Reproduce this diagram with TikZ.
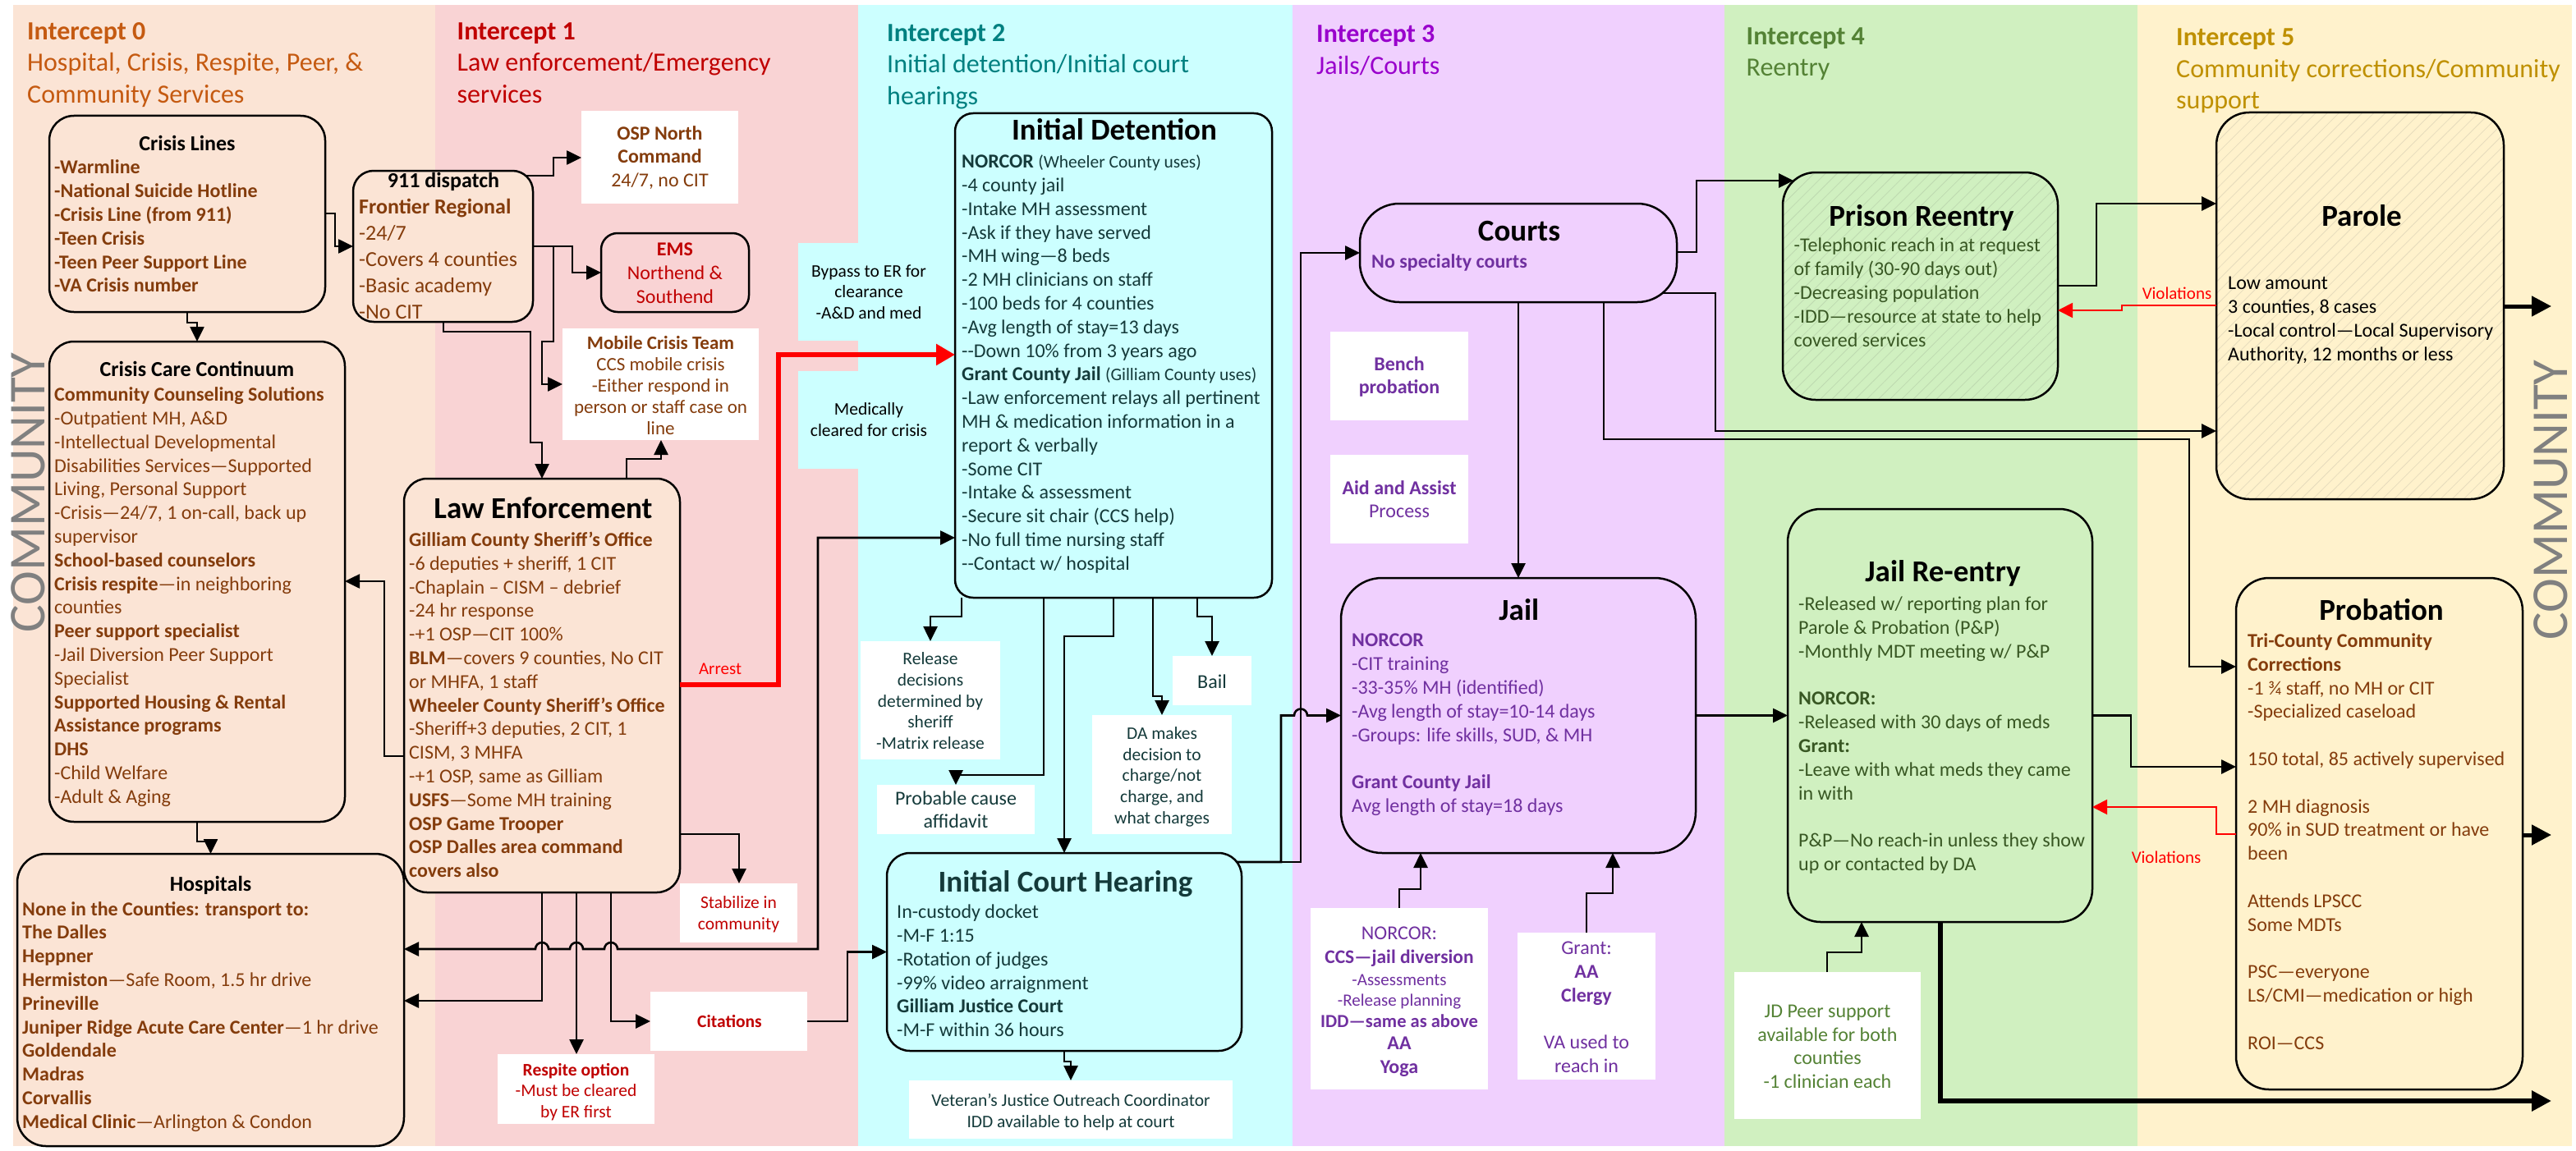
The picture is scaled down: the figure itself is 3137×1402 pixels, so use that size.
\documentclass[tikz,border=0pt]{standalone}
\usepackage{fontspec}
\setmainfont{Carlito}
\usetikzlibrary{arrows.meta,calc,patterns.meta}
\definecolor{pA}{RGB}{251,228,213}
\definecolor{pB}{RGB}{249,211,212}
\definecolor{pC}{RGB}{204,255,255}
\definecolor{pD}{RGB}{240,208,254}
\definecolor{pE}{RGB}{208,240,192}
\definecolor{pF}{RGB}{255,242,204}
\definecolor{tA}{RGB}{197,90,17}
\definecolor{tB}{RGB}{192,0,0}
\definecolor{tC}{RGB}{0,128,128}
\definecolor{tD}{RGB}{153,0,204}
\definecolor{tE}{RGB}{84,130,53}
\definecolor{tF}{RGB}{191,144,0}
\definecolor{brn}{RGB}{132,60,12}
\definecolor{dteal}{RGB}{20,58,58}
\definecolor{purp}{RGB}{112,48,160}
\definecolor{dgrn}{RGB}{56,87,35}
\definecolor{vred}{RGB}{255,0,0}
\definecolor{hatchE}{RGB}{190,217,176}
\definecolor{hatchF}{RGB}{230,219,188}
\definecolor{cgray}{RGB}{128,128,128}
\newcommand{\fzBody}{\fontsize{24}{28.8}\selectfont}
\newcommand{\fzMid}{\fontsize{26}{32}\selectfont}
\newcommand{\fzBig}{\fontsize{37}{44}\selectfont\bfseries}
\newcommand{\fzSm}{\fontsize{21.5}{25.7}\selectfont}
\newcommand{\fzHead}{\fontsize{32}{38.4}\selectfont}
\newcommand{\fzMob}{\fontsize{23}{26}\selectfont}
\newcommand{\fzTwo}{\fontsize{24}{28}\selectfont}
\newcommand{\fzPar}{\fontsize{21.5}{28.8}\selectfont}
\tikzset{
  rbox/.style={draw=black, line width=2.5pt, inner sep=0pt, outer sep=0pt},
  wbox/.style={fill=white, inner sep=0pt, outer sep=0pt},
  cbox/.style={fill=pC, inner sep=0pt, outer sep=0pt},
  body/.style={inner sep=0pt, anchor=north west, align=left, font=\fzBody},
  ctr/.style={inner sep=0pt, anchor=center, align=center},
  lbl/.style={inner sep=0pt, anchor=base},
  conn/.style={draw=black, line width=2.6pt, -{Triangle[length=18pt,width=17pt]}},
  bconn/.style={draw=black, line width=2.6pt, {Triangle[length=18pt,width=17pt]}-{Triangle[length=18pt,width=17pt]}},
  tconn/.style={draw=black, line width=5pt, -{Triangle[length=24pt,width=24pt]}},
  arrestln/.style={draw=red, line width=5.5pt, -{Triangle[length=23pt,width=25pt]}},
  viol/.style={draw=vred, line width=2pt, -{Triangle[length=18pt,width=18pt]}},
  hatchE/.style={preaction={fill=pE}, pattern={Lines[angle=45,distance=10pt,line width=0.8pt]}, pattern color=hatchE},
  hatchF/.style={preaction={fill=pF}, pattern={Lines[angle=45,distance=10pt,line width=0.8pt]}, pattern color=hatchF},
}
\begin{document}
\begin{tikzpicture}[x=1pt,y=-1pt]
\useasboundingbox (0,0) rectangle (3137,1402);
\fill[white] (0,0) rectangle (3137,1402);
% panels
\fill[pA] (16,6) rectangle (530,1396);
\fill[pB] (530,6) rectangle (1045,1396);
\fill[pC] (1045,6) rectangle (1574,1396);
\fill[pD] (1574,6) rectangle (2100,1396);
\fill[pE] (2100,6) rectangle (2603,1396);
\fill[pF] (2603,6) rectangle (3132,1396);
% panel titles
\node[body, font=\fzHead, text=tA] (t0) at (33,21.4) {\strut\textbf{Intercept 0}\\Hospital, Crisis, Respite, Peer, \&\\Community Services\strut};
\node[body, font=\fzHead, text=tB] (t1) at (556.5,21.4) {\strut\textbf{Intercept 1}\\Law enforcement/Emergency\\services\strut};
\node[body, font=\fzHead, text=tC] (t2) at (1080,23.4) {\strut\textbf{Intercept 2}\\Initial detention/Initial court\\hearings\strut};
\node[body, font=\fzHead, text=tD] (t3) at (1603,24.9) {\strut\textbf{Intercept 3}\\Jails/Courts\strut};
\node[body, font=\fzHead, text=tE] (t4) at (2126.5,27.4) {\strut\textbf{Intercept 4}\\Reentry\strut};
\node[body, font=\fzHead, text=tF] (t5) at (2650,28.9) {\strut\textbf{Intercept 5}\\Community corrections/Community\\support\strut};
% COMMUNITY
\node[rotate=90, inner sep=0pt, text=cgray, font=\fontsize{63}{70}\selectfont] (commL) at (34,600) {COMMUNITY};
\node[rotate=90, inner sep=0pt, text=cgray, font=\fontsize{63}{70}\selectfont] (commR) at (3106.5,609) {COMMUNITY};

% ---------- Intercept 0 ----------
\node[rbox, fill=pA, rounded corners=30pt, minimum width=336pt, minimum height=239pt] (crisislines) at (228,260.5) {};
\node[lbl, font=\fzMid\bfseries] (clT) at (228,183.3) {Crisis Lines};
\node[body, text=brn, font=\fzBody\bfseries] (clB) at (66,191.5) {\strut-Warmline\\-National Suicide Hotline\\-Crisis Line (from 911)\\-Teen Crisis\\-Teen Peer Support Line\\-VA Crisis number\strut};

\node[rbox, fill=pA, rounded corners=30pt, minimum width=360pt, minimum height=585pt] (ccc) at (240,708.5) {};
\node[lbl, font=\fzMid\bfseries] (cccT) at (240,458.3) {Crisis Care Continuum};
\node[body, text=brn] (cccB) at (66,468.3) {\strut\textbf{Community Counseling Solutions}\\
-Outpatient MH, A\&D\\
-Intellectual Developmental\\
Disabilities Services—Supported\\
Living, Personal Support\\
-Crisis—24/7, 1 on-call, back up\\
supervisor\\
\textbf{School-based counselors}\\
\textbf{Crisis respite}—in neighboring\\
counties\\
\textbf{Peer support specialist}\\
-Jail Diversion Peer Support\\
Specialist\\
\textbf{Supported Housing \& Rental}\\
\textbf{Assistance programs}\\
\textbf{DHS}\\
-Child Welfare\\
-Adult \& Aging\strut};

\node[rbox, fill=pA, rounded corners=35pt, minimum width=471pt, minimum height=356pt] (hosp) at (256.5,1218) {};
\node[lbl, font=\fzMid\bfseries] (hospT) at (256.5,1085.3) {Hospitals};
\node[body, text=brn] (hospB) at (27,1094.8) {\strut\textbf{None in the Counties: transport to:}\\
\textbf{The Dalles}\\
\textbf{Heppner}\\
\textbf{Hermiston}—Safe Room, 1.5 hr drive\\
\textbf{Prineville}\\
\textbf{Juniper Ridge Acute Care Center}—1 hr drive\\
\textbf{Goldendale}\\
\textbf{Madras}\\
\textbf{Corvallis}\\
\textbf{Medical Clinic}—Arlington \& Condon\strut};

% ---------- Intercept 1 ----------
\node[rbox, fill=pA, rounded corners=25pt, minimum width=219pt, minimum height=184pt] (dispatch) at (539.5,300) {};
\node[lbl, font=\fzMid\bfseries] (dispT) at (540,228.3) {911 dispatch};
\node[body, text=brn, font=\fzMid] (dispB) at (437,237.9) {\strut\textbf{Frontier Regional}\\-24/7\\-Covers 4 counties\\-Basic academy\\-No CIT\strut};

\node[wbox, minimum width=191pt, minimum height=113pt] (osp) at (803.5,191.5) {};
\node[ctr, text=brn, font=\fzBody] (ospT) at (803.5,193.2) {\strut\textbf{OSP North}\\\textbf{Command}\\24/7, no CIT\strut};

\node[rbox, fill=pB, rounded corners=20pt, minimum width=180pt, minimum height=96pt] (ems) at (822,332) {};
\node[ctr, text=tB, font=\fzBody] (emsT) at (822,335) {\strut\textbf{EMS}\\Northend \&\\Southend\strut};

\node[wbox, minimum width=239pt, minimum height=136pt] (mobile) at (804.5,468) {};
\node[ctr, text=brn, font=\fzMob] (mobT) at (804.5,472.4) {\strut\textbf{Mobile Crisis Team}\\CCS mobile crisis\\-Either respond in\\person or staff case on\\line\strut};

\node[rbox, fill=pA, rounded corners=28pt, minimum width=336pt, minimum height=504pt] (le) at (660,835) {};
\node[lbl, font=\fzBig] (leT) at (661.5,631.8) {Law Enforcement};
\node[body, text=brn] (leB) at (498,645.1) {\strut\textbf{Gilliam County Sheriff’s Office}\\
-6 deputies + sheriff, 1 CIT\\
-Chaplain – CISM – debrief\\
-24 hr response\\
-+1 OSP—CIT 100\%\\
\textbf{BLM}—covers 9 counties, No CIT\\
or MHFA, 1 staff\\
\textbf{Wheeler County Sheriff’s Office}\\
-Sheriff+3 deputies, 2 CIT, 1\\
CISM, 3 MHFA\\
-+1 OSP, same as Gilliam\\
\textbf{USFS}—Some MH training\\
\textbf{OSP Game Trooper}\\
\textbf{OSP Dalles area command}\\
\textbf{covers also}\strut};

\node[wbox, minimum width=143pt, minimum height=72pt] (stab) at (899.5,1112) {};
\node[ctr, text=tB, font=\fzSm] (stabT) at (899.5,1114.2) {\strut Stabilize in\\community\strut};

\node[wbox, minimum width=191pt, minimum height=85pt] (respite) at (701.5,1326.5) {};
\node[ctr, text=tB, font=\fzSm] (respT) at (701.5,1330.6) {\strut\textbf{Respite option}\\-Must be cleared\\by ER first\strut};

\node[wbox, minimum width=191pt, minimum height=72pt] (cit) at (887.5,1244) {};
\node[lbl, text=tB, font=\fzSm\bfseries] (citT) at (888.5,1251.9) {Citations};

\node[cbox, minimum width=172pt, minimum height=119pt] (bypass) at (1058,355.5) {};
\node[ctr, font=\fzSm] (bypT) at (1058,357.7) {\strut Bypass to ER for\\clearance\\-A\&D and med\strut};
\node[cbox, minimum width=172pt, minimum height=119pt] (medic) at (1058,511.5) {};
\node[ctr, font=\fzSm] (medT) at (1058,513.7) {\strut Medically\\cleared for crisis\strut};

% ---------- Intercept 2 ----------
\node[rbox, fill=pC, rounded corners=22pt, minimum width=386pt, minimum height=590pt] (iddet) at (1356,433) {};
\node[lbl, font=\fzBig] (idT) at (1357,170.8) {Initial Detention};
\node[body, text=dteal] (idB) at (1171,184.4) {\strut\textbf{NORCOR} {\fzPar(Wheeler County uses)}\\
-4 county jail\\
-Intake MH assessment\\
-Ask if they have served\\
-MH wing—8 beds\\
-2 MH clinicians on staff\\
-100 beds for 4 counties\\
-Avg length of stay=13 days\\
-{}-Down 10\% from 3 years ago\\
\textbf{Grant County Jail} {\fzPar(Gilliam County uses)}\\
-Law enforcement relays all pertinent\\
MH \& medication information in a\\
report \& verbally\\
-Some CIT\\
-Intake \& assessment\\
-Secure sit chair (CCS help)\\
-No full time nursing staff\\
-{}-Contact w/ hospital\strut};

\node[wbox, minimum width=170pt, minimum height=144pt] (release) at (1133,853) {};
\node[ctr, text=dteal, font=\fzSm] (relT) at (1133,856.1) {\strut Release\\decisions\\determined by\\sheriff\\-Matrix release\strut};
\node[wbox, minimum width=192pt, minimum height=60pt] (probable) at (1164,986) {};
\node[ctr, text=dteal, font=\fzTwo] (probT) at (1164,989) {\strut Probable cause\\affidavit\strut};
\node[wbox, minimum width=170pt, minimum height=145pt] (da) at (1415,943.5) {};
\node[ctr, text=dteal, font=\fzSm] (daT) at (1415,946.6) {\strut DA makes\\decision to\\charge/not\\charge, and\\what charges\strut};
\node[wbox, minimum width=96pt, minimum height=60pt] (bail) at (1476,829) {};
\node[lbl, text=dteal, font=\fzBody] (bailT) at (1476,838.4) {Bail};

\node[rbox, fill=pC, rounded corners=28pt, minimum width=432pt, minimum height=241pt] (ich) at (1296,1159.5) {};
\node[lbl, font=\fzBig, text=dteal] (ichT) at (1297.4,1086.9) {Initial Court Hearing};
\node[body, text=dteal] (ichB) at (1092,1098.4) {\strut In-custody docket\\-M-F 1:15\\-Rotation of judges\\-99\% video arraignment\\\textbf{Gilliam Justice Court}\\-M-F within 36 hours\strut};

\node[wbox, minimum width=394pt, minimum height=71pt] (vet) at (1304,1351.5) {};
\node[ctr, text=dteal, font=\fontsize{21.5}{26}\selectfont] (vetT) at (1304,1354.8) {\strut Veteran’s Justice Outreach Coordinator\\IDD available to help at court\strut};

% ---------- Intercept 3 ----------
\node[rbox, fill=pD, rounded corners=48pt, minimum width=386pt, minimum height=120pt] (courts) at (1849,308) {};
\node[lbl, font=\fzBig] (courtsT) at (1850,293.9) {Courts};
\node[inner sep=0pt, anchor=base west, text=purp, font=\fzBody\bfseries] (courtsB) at (1670,326.7) {No specialty courts};

\node[wbox, minimum width=168pt, minimum height=108pt] (bench) at (1704,458) {};
\node[ctr, text=purp, font=\fzTwo\bfseries] (benchT) at (1704,460.3) {\strut Bench\\probation\strut};
\node[wbox, minimum width=168pt, minimum height=108pt] (aid) at (1704,608) {};
\node[ctr, text=purp, font=\fzTwo] (aidT) at (1704,610.8) {\strut\textbf{Aid and Assist}\\Process\strut};

\node[rbox, fill=pD, rounded corners=50pt, minimum width=432pt, minimum height=335pt] (jail) at (1849,871.5) {};
\node[lbl, font=\fzBig] (jailT) at (1849.8,755.2) {Jail};
\node[body, text=purp] (jailB) at (1646,767.6) {\strut\textbf{NORCOR}\\-CIT training\\-33-35\% MH (identified)\\-Avg length of stay=10-14 days\\-Groups: life skills, SUD, \& MH\\\strut\\\textbf{Grant County Jail}\\Avg length of stay=18 days\strut};

\node[wbox, minimum width=216pt, minimum height=221pt] (norcorbox) at (1704,1216.5) {};
\node[lbl, text=purp, font=\fzBody] (nb1) at (1704,1144.1) {NORCOR:};
\node[lbl, text=purp, font=\fontsize{23.5}{28}\selectfont\bfseries] (nb2) at (1704,1173.2) {CCS—jail diversion};
\node[lbl, text=purp, font=\fontsize{21}{25}\selectfont] (nb3) at (1704,1200) {-Assessments};
\node[lbl, text=purp, font=\fontsize{21}{25}\selectfont] (nb4) at (1704,1225.2) {-Release planning};
\node[lbl, text=purp, font=\fontsize{22.5}{27}\selectfont\bfseries] (nb5) at (1704,1251.9) {IDD—same as above};
\node[lbl, text=purp, font=\fzBody\bfseries] (nb6) at (1704,1278.4) {AA};
\node[lbl, text=purp, font=\fzBody\bfseries] (nb7) at (1704,1307.5) {Yoga};

\node[wbox, minimum width=168pt, minimum height=179pt] (grantbox) at (1932,1225.5) {};
\node[ctr, text=purp, font=\fzBody] (grantT) at (1932,1228.7) {\strut Grant:\\\textbf{AA}\\\textbf{Clergy}\\\strut\\VA used to\\reach in\strut};

% ---------- Intercept 4 ----------
\node[rbox, hatchE, rounded corners=40pt, minimum width=335pt, minimum height=277pt] (prison) at (2338.5,348.5) {};
\node[lbl, font=\fzBig] (prisonT) at (2340,275.2) {Prison Reentry};
\node[body, text=dgrn] (prisonB) at (2184.5,286.6) {\strut-Telephonic reach in at request\\of family (30-90 days out)\\-Decreasing population\\-IDD—resource at state to help\\covered services\strut};

\node[rbox, fill=pE, rounded corners=40pt, minimum width=371pt, minimum height=503pt] (jre) at (2362.5,871.5) {};
\node[lbl, font=\fzBig] (jreT) at (2366,708.8) {Jail Re-entry};
\node[body, text=dgrn] (jreB) at (2190,723.3) {\strut-Released w/ reporting plan for\\Parole \& Probation (P\&P)\\-Monthly MDT meeting w/ P\&P\\\strut\\\textbf{NORCOR:}\\-Released with 30 days of meds\\\textbf{Grant:}\\-Leave with what meds they came\\in with\\\strut\\P\&P—No reach-in unless they show\\up or contacted by DA\strut};

\node[wbox, minimum width=227pt, minimum height=179pt] (jd) at (2225.5,1273.5) {};
\node[ctr, text=tE, font=\fontsize{24}{28.6}\selectfont] (jdT) at (2225.5,1276.7) {\strut JD Peer support\\available for both\\counties\\-1 clinician each\strut};

% ---------- Intercept 5 ----------
\node[rbox, hatchF, rounded corners=40pt, minimum width=350pt, minimum height=471pt] (parole) at (2874,372.5) {};
\node[lbl, font=\fzBig] (paroleT) at (2876,275.2) {Parole};
\node[body] (paroleB) at (2713,332.6) {\strut Low amount\\3 counties, 8 cases\\-Local control—Local Supervisory\\Authority, 12 months or less\strut};

\node[rbox, fill=pF, rounded corners=40pt, minimum width=349pt, minimum height=623pt] (probation) at (2897.5,1015.5) {};
\node[lbl, font=\fzBig] (probationT) at (2900,755.2) {Probation};
\node[body, text=brn] (probationB) at (2737,768.1) {\strut\textbf{Tri-County Community}\\\textbf{Corrections}\\-1 ¾ staff, no MH or CIT\\-Specialized caseload\\\strut\\150 total, 85 actively supervised\\\strut\\2 MH diagnosis\\90\% in SUD treatment or have\\been\\\strut\\Attends LPSCC\\Some MDTs\\\strut\\PSC—everyone\\LS/CMI—medication or high\\\strut\\ROI—CCS\strut};

% free ends
\coordinate (prisonIn) at (2184,220);
\coordinate (outParole) at (3107,373);
\coordinate (outProb) at (3107,1017);
\coordinate (outJre) at (3107,1341);

% ---------- connectors ----------
\draw[conn] (228,0 |- crisislines.south) -- (228,393) -- (240,393) -- (240,0 |- ccc.north);
\draw[conn] (crisislines.east |- 0,260) -- (408,260) -- (408,300) -- (dispatch.west);
\draw[conn] (240,0 |- ccc.south) -- (240,1025) -- (256.5,1025) -- (hosp.north);
\draw[conn] ($(dispatch.north east)+(-9,6)$) -- (674,214) -- (674,192) -- (osp.west |- 0,192);
\draw[conn] (dispatch.east) -- (697,300) -- (697,332) -- (ems.west);
\draw[conn] (dispatch.east) -- (674,300) -- (674,416) -- (660,416) -- (660,468) -- (mobile.west);
\draw[conn] (540,0 |- dispatch.south) -- (540,404) -- (646,404) -- (646,539) -- (660,539) -- (le.north);
\draw[conn] (763,0 |- le.north) -- (763,559) -- (805,559) -- (805,0 |- mobile.south);
\draw[conn] (le.west |- 0,921) -- (468,921) -- (468,708) -- (ccc.east |- 0,708);
\draw[arrestln] (le.east |- 0,834) -- (948,834) -- (948,432) -- (iddet.west |- 0,432);
\node[lbl, text=vred, font=\fontsize{21}{25}\selectfont] (arrestT) at (877,821) {Arrest};
\draw[conn] (le.east |- 0,1016) -- (900,1016) -- (900,0 |- stab.north);
\draw[conn] (660,0 |- le.south) -- (660,1219) -- (hosp.east |- 0,1219);
\draw[conn] (702,0 |- le.south) -- (702,0 |- respite.north);
\draw[conn] (744,0 |- le.south) -- (744,1244) -- (cit.west);
\draw[conn] (cit.east) -- (1032,1244) -- (1032,1159.5) -- (ich.west);
\draw[bconn] (hosp.east |- 0,1156) -- (652,1156) arc[start angle=180,end angle=0,radius=8pt]
  -- (694,1156) arc[start angle=180,end angle=0,radius=8pt]
  -- (736,1156) arc[start angle=180,end angle=0,radius=8pt]
  -- (996,1156) -- (996,655) -- (iddet.west |- 0,655);
% detention outputs
\draw[conn] (1171,0 |- iddet.south) -- (1171,751) -- (1133,751) -- (release.north);
\draw[conn] (1271,0 |- iddet.south) -- (1271,944) -- (1164,944) -- (probable.north);
\draw[conn] (1356,0 |- iddet.south) -- (1356,775) -- (1296,775) -- (ich.north);
\draw[conn] (1404,0 |- iddet.south) -- (1404,848) -- (1415,848) -- (da.north);
\draw[conn] (1458,0 |- iddet.south) -- (1458,751) -- (1476,751) -- (bail.north);
\draw[conn] (1296,0 |- ich.south) -- (1296,1293) -- (1304,1293) -- (vet.north);
\draw[conn] ($(ich.north east)+(-6,11)$) -- (1584,1050) -- (1584,308) -- (courts.west);
\draw[conn] ($(ich.north east)+(-6,11)$) -- (1560,1050) -- (1560,871.5) -- (1576,871.5)
  arc[start angle=180,end angle=0,radius=8pt] -- (jail.west);
% intercept 3
\draw[conn] (courts.south) -- (jail.north);
\draw[conn] (courts.east |- 0,307) -- (2066,307) -- (2066,220) -- (prisonIn);
\draw[conn] ($(courts.south east)+(-18,-11)$) -- (2089,357) -- (2089,525) -- (parole.west |- 0,525);
\draw[conn] (1953,0 |- courts.south) -- (1953,535) -- (2666,535) -- (2666,812) -- (probation.west |- 0,812);
\draw[conn] (1704,0 |- norcorbox.north) -- (1704,1083) -- (1730,1083) -- (1730,0 |- jail.south);
\draw[conn] (1932,0 |- grantbox.north) -- (1932,1088) -- (1964,1088) -- (1964,0 |- jail.south);
\draw[conn] (jail.east) -- (jre.west);
% intercept 4/5
\draw[conn] (prison.east |- 0,348) -- (2553,348) -- (2553,248) -- (parole.west |- 0,248);
\draw[viol] (parole.west |- 0,372) -- (2584,372) -- (2584,378) -- (prison.east |- 0,378);
\node[lbl, text=vred, font=\fontsize{21}{25}\selectfont] (viol1) at (2651,364) {Violations};
\draw[tconn] (parole.east |- 0,373) -- (outParole);
\draw[conn] (jre.east) -- (2595,871.5) -- (2595,934) -- (probation.west |- 0,934);
\draw[viol] (probation.west |- 0,1016) -- (2699,1016) -- (2699,983) -- (jre.east |- 0,983);
\node[lbl, text=vred, font=\fontsize{21}{25}\selectfont] (viol2) at (2638,1051) {Violations};
\draw[conn] (2225,0 |- jd.north) -- (2225,1160) -- (2267,1160) -- (2267,0 |- jre.south);
\draw[tconn, line width=6pt] (2363,0 |- jre.south) -- (2363,1341) -- (outJre);
\draw[tconn] (probation.east |- 0,1017) -- (outProb);
\end{tikzpicture}
\end{document}
